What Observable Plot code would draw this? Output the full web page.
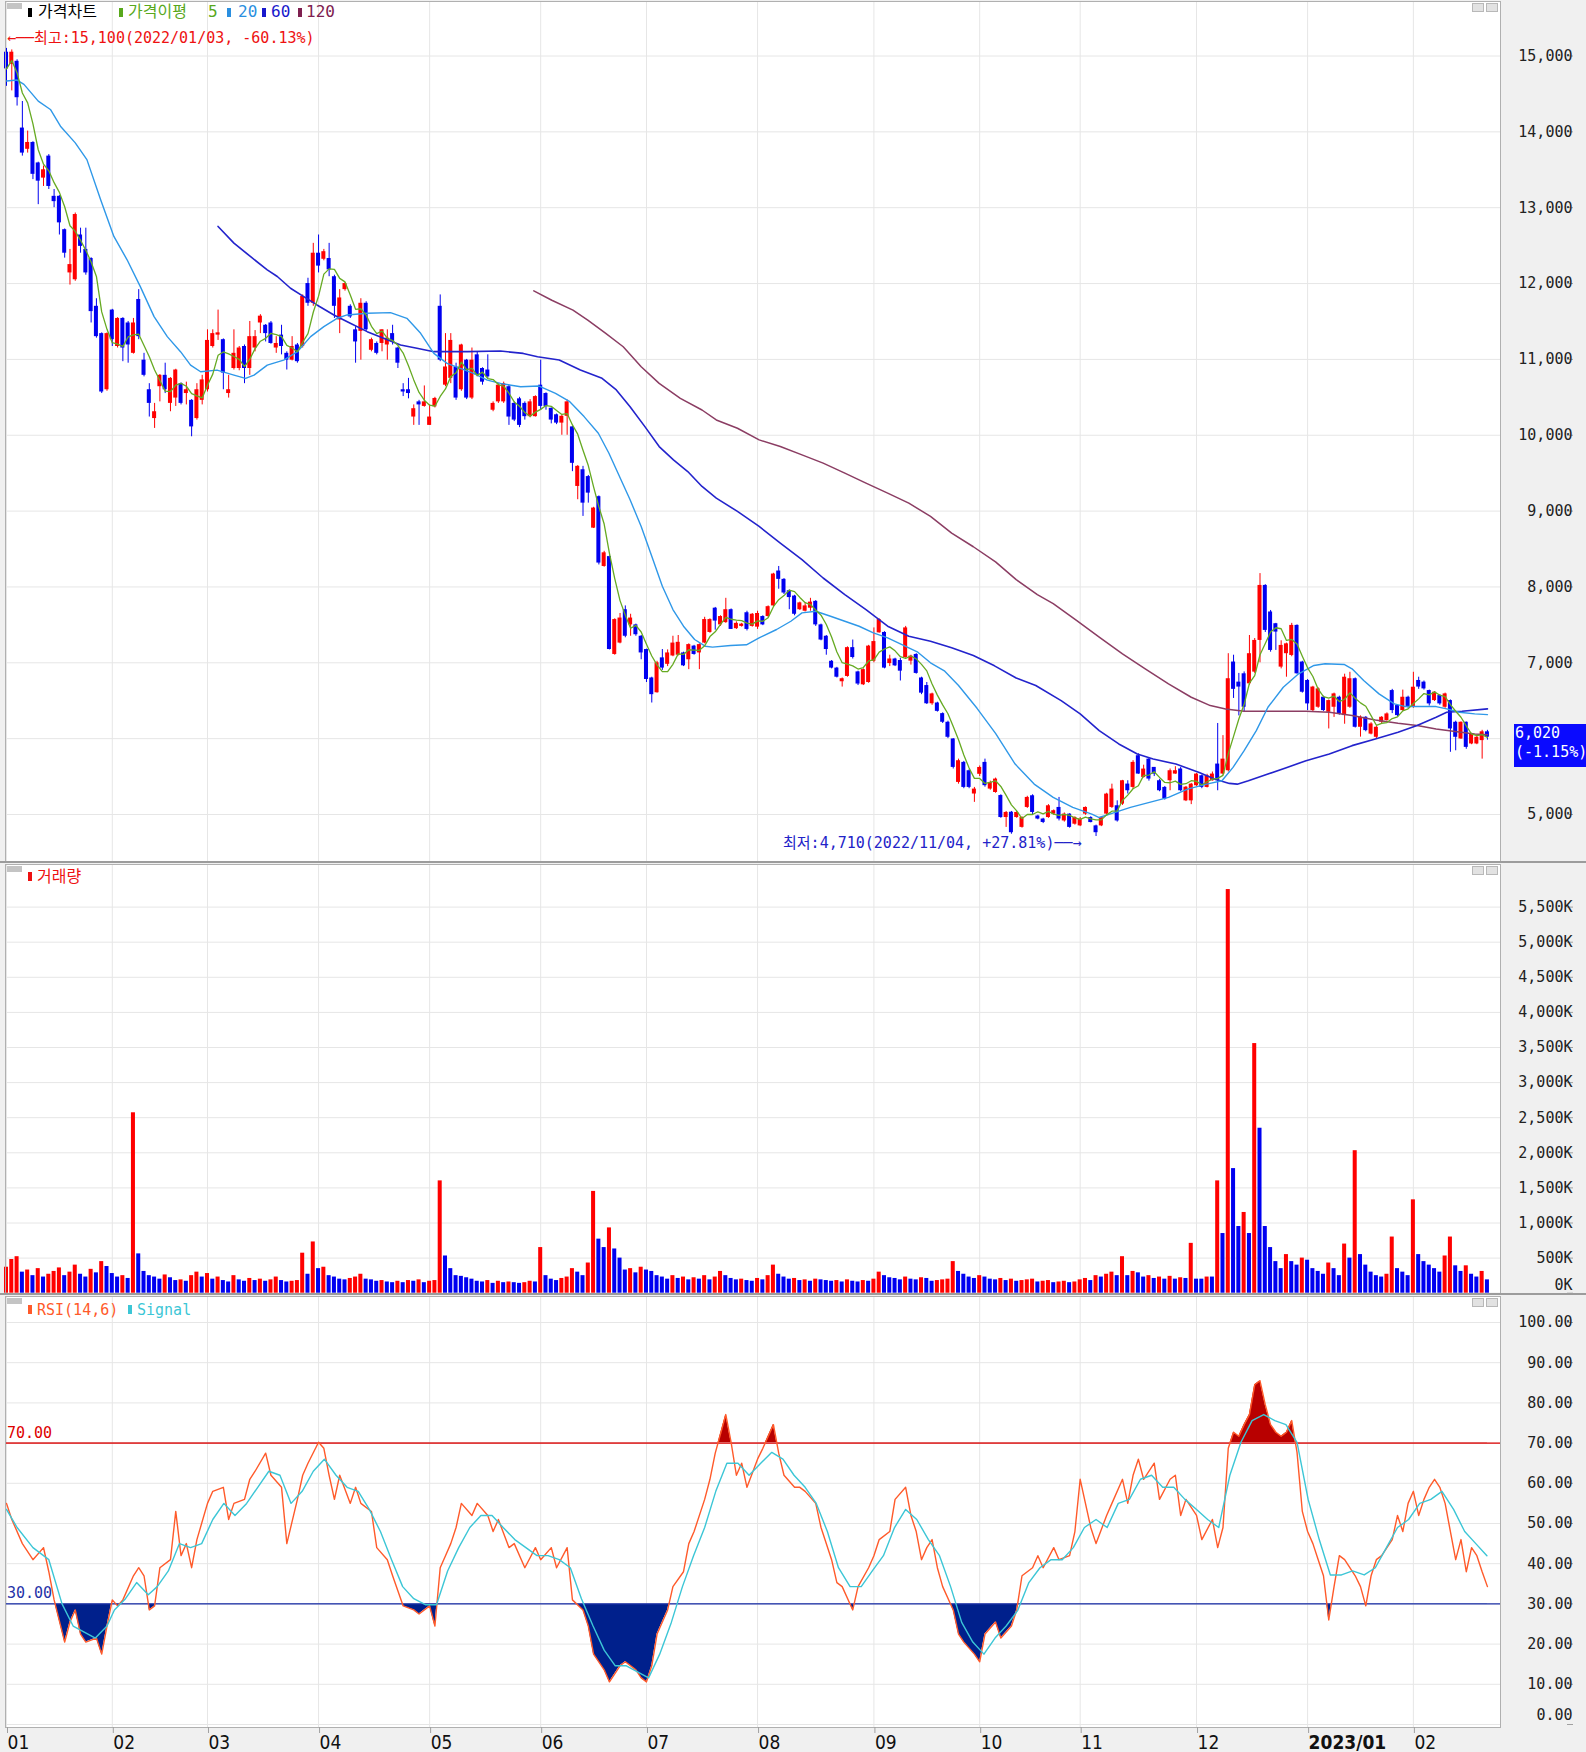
<!DOCTYPE html>
<html><head><meta charset="utf-8">
<script src="https://cdn.jsdelivr.net/npm/d3@7"></script>
<script src="https://cdn.jsdelivr.net/npm/@observablehq/plot@0.6"></script>
<style>
html,body{margin:0;padding:0;background:#f0f0f0;}
#chart{position:relative;width:1586px;height:1752px;overflow:hidden;background:#f0f0f0;font-family:'DejaVu Sans Mono','Noto Sans CJK KR',monospace;}
#chart svg{position:absolute;left:0;display:block;}
.t{position:absolute;white-space:pre;font-size:15px;line-height:18px;}
.t16{font-size:16px;}
.mk{position:absolute;width:4px;height:9px;}
.sep{position:absolute;left:0;width:1586px;height:2px;background:#9c9c9c;}
.ic{position:absolute;width:10px;height:7px;border:1px solid #b8b8b8;background:#e2e2e2;}
.menu{position:absolute;width:15px;height:6px;background:#c4c4c4;}
.pbox{position:absolute;left:1514px;top:724px;width:72px;height:43px;background:#0a0aff;color:#fff;font-size:15px;line-height:19px;padding-left:1px;box-sizing:border-box;white-space:pre;}
</style></head>
<body><div id="chart"></div>
<script>
// ---- trading-day axis: first session of each month and its label ----
const monthStart = [0, 20, 38, 59, 80, 101, 121, 142, 164, 184, 203, 225, 246, 266];
const monthLabel = ["01","02","03","04","05","06","07","08","09","10","11","12","2023/01","02"];

// ---- daily prices (KRW) ----
const open = [
15050,14890,14930,14050,13770,13860,13590,13390,13680,13150,
13150,12710,12140,12050,12640,12450,12330,11700,11340,10600,
11650,11170,11540,11480,11080,11790,10990,10600,10220,10640,
10790,10420,10490,10680,10550,10460,10220,10460,10600,11170,
11320,11260,10550,10880,10880,11170,10880,11150,11480,11450,
11480,11150,11320,11080,10990,11190,11170,12000,11740,12400,
12320,12330,12090,11520,11920,11700,11390,11370,11740,11120,
11210,11210,11190,11340,11150,10600,10600,10240,10440,10380,
10130,10375,11700,10660,10750,10900,10600,10990,10490,11060,
10880,10860,10330,10440,10440,10640,10420,10480,10420,10245,
10245,10660,10550,10355,10270,10160,10250,10110,9325,9545,
9455,8775,9190,8270,8400,7110,7260,7700,7500,7500,
7350,7175,6800,6605,7065,6980,7090,7100,7130,7040,
7220,7130,7260,7400,7720,7500,7530,7700,7450,7480,
7660,7480,7470,7610,7610,7750,8210,8100,7950,7880,
7700,7680,7720,7810,7500,7350,7020,6930,6750,6820,
7200,6880,6710,6740,7020,7395,7400,6990,7050,7030,
7070,7022,7110,6800,6700,6460,6470,6330,6216,5996,
5423,5687,5577,5270,5530,5687,5335,5290,5250,4960,
5030,4960,4830,5093,5247,4980,4940,4960,5005,5093,
4915,5005,4872,4850,5005,4960,4850,4850,5005,5093,
5115,5137,5401,5357,5775,5489,5730,5621,5445,5357,
5445,5533,5600,5180,5180,5379,5511,5357,5445,5665,
5533,5577,7010,6745,6855,6723,6877,7295,8020,7670,
7515,6943,7120,7097,7493,7010,6767,6370,6414,6546,
6348,6414,6546,6304,6414,6790,6150,6282,6060,6018,
6216,6238,6634,6436,6370,6546,6414,6767,6745,6634,
6502,6568,6414,6502,6216,5996,6216,5930,5930,5974,
6090];
const high = [
15100,15080,14950,14400,14010,13870,13600,13550,13700,13240,
13160,12720,12450,12930,12730,12730,12340,11800,11350,11350,
11660,11550,11550,11500,11540,11920,11080,10680,10420,10800,
10950,10760,10870,10690,10700,10470,10680,10790,11390,11390,
11650,11270,10790,11390,11170,11190,11500,11380,11590,11460,
11500,11300,11450,11100,11300,11210,11850,12070,12530,12640,
12450,12530,12110,11920,12010,11720,11430,11800,11760,11280,
11230,11390,11390,11450,11160,10680,10750,10400,10460,10650,
10400,10500,11850,11340,11340,10950,11200,11000,11150,11100,
10890,11060,10440,10680,10700,10660,10440,10500,10440,10470,
10520,10990,10560,10360,10280,10260,10465,10120,9600,9590,
9470,9050,9200,8470,8410,7580,7650,7750,7640,7510,
7360,7180,6810,7020,7175,7170,7350,7360,7140,7250,
7230,7250,7600,7580,7730,7620,7850,7710,7540,7520,
7680,7650,7680,7620,7750,8180,8270,8110,7960,7890,
7800,7780,7850,7820,7510,7360,7030,6940,6800,7210,
7300,6890,6920,7230,7460,7580,7410,7100,7060,7060,
7480,7100,7120,6810,6740,6600,6480,6340,6230,6000,
5730,5700,5590,5357,5640,5730,5440,5480,5260,5040,
5040,5040,4970,5240,5260,4990,4950,5130,5060,5225,
5020,5010,4970,4960,5100,4970,4860,4970,5280,5400,
5180,5450,5445,5710,5800,5650,5750,5620,5460,5370,
5600,5630,5620,5370,5410,5540,5520,5530,5560,6200,
6040,7120,7100,6860,6880,7360,7320,8176,8030,7690,
7520,7290,7260,7520,7500,7020,6780,6690,6670,6560,
6510,6600,6560,6850,6875,6800,6300,6290,6210,6160,
6290,6340,6650,6450,6640,6560,6875,6810,6760,6640,
6620,6580,6600,6510,6230,6220,6220,6070,6030,6110,
6110];
const low = [
14600,14540,14340,13680,13720,13370,13040,13280,13240,13000,
12640,12335,11980,12030,12400,12110,11480,11280,10550,10580,
11170,11150,10970,10950,11070,11260,10770,10240,10090,10440,
10550,10310,10380,10400,10400,9980,10200,10400,10570,11150,
11250,10600,10490,10860,10850,10680,10790,11100,11340,11230,
11200,11080,11060,10860,10980,10950,11150,11700,11700,12140,
12300,12090,11540,11340,11900,11540,10950,10990,11370,11100,
11060,11100,10990,11190,10880,10510,10480,10130,10130,10370,
10130,10360,10970,10640,10680,10460,10580,10470,10470,10770,
10660,10750,10310,10420,10420,10130,10180,10100,10200,10230,
10240,10330,10330,10150,10140,10000,10000,9520,9150,8930,
9105,8770,8290,8260,7170,7100,7250,7330,7350,7350,
7040,6740,6470,6600,6900,6950,7080,7090,6950,6910,
7100,6910,7250,7390,7430,7480,7520,7440,7440,7470,
7420,7470,7440,7490,7600,7740,7970,7900,7700,7620,
7690,7670,7680,7480,7290,7100,6920,6800,6680,6810,
7050,6700,6700,6730,7000,7390,6920,6950,6950,6760,
7060,6970,6850,6580,6450,6440,6350,6200,6000,5600,
5400,5340,5340,5160,5500,5360,5320,5280,4950,4830,
4740,4950,4820,5080,4990,4930,4880,4950,4990,4915,
4900,4820,4860,4840,4990,4890,4710,4840,4990,5080,
4900,5120,5270,5330,5530,5480,5440,5500,5300,5190,
5313,5530,5300,5170,5130,5370,5340,5350,5440,5313,
5520,5560,6530,6300,6350,6700,6860,7000,7400,7140,
7163,6920,6810,7080,6850,6600,6370,6350,6400,6360,
6128,6280,6310,6190,6400,6140,6020,6090,6050,6000,
6200,6230,6330,6290,6360,6400,6400,6650,6640,6430,
6490,6440,6400,5820,5840,5990,5860,5920,5920,5730,
5980];
const close = [
14830,15050,14450,13720,13860,13440,13350,13500,13280,13080,
12800,12400,12250,12910,12490,12140,11630,11300,10570,11340,
11260,11540,11150,11190,11480,11300,10790,10420,10310,10790,
10600,10750,10860,10420,10600,10110,10600,10730,11250,11340,
11350,10820,10600,11080,11150,10880,11300,11300,11570,11340,
11210,11210,11170,10990,11170,10970,11830,11740,12400,12230,
12420,12180,11700,11810,12000,11560,11230,11740,11390,11260,
11080,11390,11280,11230,10950,10570,10550,10350,10400,10440,
10240,10485,10990,10900,11250,10490,11190,10490,10990,10790,
10700,10770,10420,10660,10680,10240,10200,10130,10245,10440,
10510,10380,10380,10200,10160,10250,10440,9630,9590,9105,
9237,9040,8315,8450,7175,7570,7590,7350,7590,7370,
7130,6780,6580,7000,6930,7130,7260,7270,6960,7240,
7110,7240,7570,7570,7550,7610,7700,7440,7520,7510,
7440,7640,7650,7500,7740,8170,8100,7920,7860,7640,
7790,7750,7800,7500,7300,7175,6930,6810,6790,7200,
7070,6720,6910,7220,7280,7570,6930,7050,6960,6890,
7460,7088,6860,6600,6460,6590,6360,6216,6018,5621,
5709,5357,5357,5335,5620,5380,5423,5467,4960,5027,
4760,5027,4960,5225,5027,4940,4895,5115,5050,4940,
5005,4830,4960,4938,5093,4894,4760,4960,5269,5335,
4915,5445,5313,5687,5533,5599,5467,5533,5313,5203,
5577,5577,5313,5360,5400,5533,5357,5511,5533,5445,
5730,6790,6650,6680,6414,7120,7295,8020,7427,7163,
7405,7229,7250,7493,6855,6612,6458,6680,6656,6370,
6502,6590,6326,6810,6790,6150,6282,6106,6194,6150,
6282,6326,6370,6304,6546,6414,6678,6680,6656,6458,
6612,6458,6590,6128,6018,6216,5885,6060,6018,6090,
6020];

// ---- daily volume, thousands of shares ----
const volume = [
370,480,520,300,330,250,350,230,270,310,360,250,300,400,270,230,340,290,450,380,
280,230,250,210,2570,560,310,250,230,200,260,220,180,190,170,250,300,230,
280,200,230,180,160,250,190,170,210,180,200,170,190,230,180,160,170,180,570,270,730,
350,370,250,230,200,190,210,230,270,200,190,170,180,160,150,170,150,180,170,190,150,
170,180,1600,530,350,250,240,220,200,170,160,180,140,170,150,160,150,140,150,170,160,
650,250,200,180,210,230,350,300,250,430,1450,770,650,930,630,500,330,350,290,370,
330,310,250,230,200,250,210,230,190,220,200,250,190,230,310,250,210,190,200,180,170,
210,190,250,400,270,230,200,210,180,190,170,200,190,180,170,180,160,190,170,160,180,170,
200,300,250,220,210,190,230,200,190,220,210,170,180,190,200,450,310,270,230,210,
250,230,200,190,210,180,200,170,180,190,200,160,170,180,150,160,170,150,160,
190,210,180,250,230,270,300,250,520,250,310,290,230,250,210,230,200,240,200,220,210,710,
200,200,230,230,1600,850,5750,1775,950,1150,850,3556,2350,950,650,450,350,550,450,400,500,
470,350,310,270,430,350,250,700,500,2030,550,400,300,250,230,270,800,350,300,250,
1330,550,450,400,350,300,530,800,390,310,390,270,230,310,190];

// ---- moving averages: [session, value] ----
const ma20 = [[0,14670],[2,14683],[3.3,14626],[6,14405],[8.3,14295],[10.2,14075],[13,13855],[15.2,13634],[17.8,13106],[20.3,12621],[22.8,12313],[25.3,11960],[27.9,11564],[30.4,11300],[32.9,11102],[34.8,10925],[36.7,10837],[39.8,10859],[43,10793],[45.2,10749],[46.8,10793],[49.3,10925],[52.4,10991],[55,11102],[57.5,11300],[60,11432],[62.5,11542],[64.4,11586],[68.2,11608],[72.6,11617],[75.7,11542],[78.3,11344],[80.8,11080],[83.3,10947],[85.8,10881],[88.3,10815],[90.9,10727],[93.4,10683],[97.2,10639],[100.7,10649],[103.8,10553],[106.5,10443],[109.2,10246],[111.9,10026],[113.9,9763],[115.9,9456],[117.9,9149],[120,8798],[122,8404],[124,8009],[126,7702],[128,7482],[130.1,7307],[132.1,7219],[133.5,7206],[136.9,7228],[139.9,7237],[142.3,7329],[145.6,7439],[148.3,7548],[150.4,7658],[153,7680],[155.8,7614],[158.5,7548],[161.2,7482],[163.9,7395],[166.6,7329],[169.3,7240],[172.3,7140],[174.7,7000],[177.4,6890],[180,6700],[183.5,6400],[187,6070],[190.7,5665],[194.3,5401],[197.9,5225],[201.6,5093],[205.2,5005],[206.6,4960],[209.6,5027],[212.5,5093],[216.1,5159],[219.7,5225],[223.3,5335],[226.9,5401],[229.8,5445],[231.9,5621],[234,5842],[236.3,6106],[238.5,6414],[241.4,6678],[244.3,6855],[247.2,6965],[249.3,6987],[252.9,6978],[254.4,6921],[256.6,6767],[259.5,6590],[262.4,6458],[264.5,6423],[266.7,6423],[270.3,6423],[272.3,6392],[274.7,6348],[277.6,6326],[280,6317]];
const ma60 = [[40,12753],[43,12533],[46.1,12357],[49.3,12181],[51.2,12093],[53.7,11938],[56.2,11828],[58.7,11718],[61.9,11586],[65,11476],[68.2,11366],[71.3,11278],[74.5,11190],[77.6,11146],[80.8,11102],[87.1,11102],[93.4,11110],[97.7,11079],[100.4,11035],[104.5,10991],[108.5,10860],[112.6,10750],[115.3,10597],[117.9,10377],[120.7,10114],[123.4,9851],[126.1,9675],[128.8,9522],[131.5,9325],[134.2,9171],[138.2,8996],[142.3,8798],[146.3,8579],[150.4,8360],[154.4,8118],[158.5,7899],[162.5,7702],[166.6,7482],[170.6,7351],[174.7,7285],[178.7,7197],[182.8,7095],[186.8,6960],[190.9,6800],[194.6,6700],[199.4,6502],[203,6326],[206.6,6106],[210.3,5930],[213.8,5797],[216.8,5731],[221.1,5665],[225.5,5555],[228.4,5467],[231.2,5410],[232.7,5400],[234.8,5445],[238.5,5533],[242.1,5621],[245.7,5709],[250.1,5797],[254.4,5908],[258.8,5996],[263.1,6084],[266.7,6172],[270.3,6282],[272.3,6348],[275.2,6361],[280,6392]];
const ma120 = [[99.7,11903],[103.1,11780],[107.1,11649],[109.9,11518],[113.3,11342],[116.6,11167],[120,10903],[123.4,10684],[127.4,10487],[131.5,10333],[134.2,10202],[138.2,10092],[142.3,9939],[146.3,9851],[150.4,9741],[154.4,9632],[158.5,9500],[162.5,9368],[166.6,9237],[170.6,9105],[174.7,8930],[178.7,8710],[182.8,8530],[187,8330],[190.9,8096],[194.9,7899],[197.9,7780],[202.3,7560],[206.6,7339],[211,7119],[215.3,6921],[219.7,6723],[224,6546],[227.6,6436],[230.5,6392],[234,6361],[241.4,6361],[245.7,6361],[250.1,6348],[254.4,6304],[258.8,6247],[263.1,6203],[266.7,6172],[270.3,6128],[273.9,6093],[277.6,6062],[280,6053]];

// ---- RSI(14) and its 6-session signal: [session, value] ----
const rsi14 = [[0,55],[1,51],[3,45],[5,41],[7,44],[8,38],[9,31],[11,20.5],[12,25.5],[13,28.5],[14,22.5],[15,20.5],[17,21.5],[18,17.5],[19,24.5],[20,31],[21,29.5],[22,31],[24,37],[25,39],[26,37],[27,28.5],[28,29.5],[29,39],[31,41],[32,53],[33,42],[34,45],[35,39],[36,46],[38,55],[39,58],[41,59],[42,51],[43,55],[45,56],[46,61],[47,63],[49,67.5],[50,62],[52,59],[53,45],[55,56],[56,62],[57,65],[59,70.2],[60,68.7],[61,62],[62,56],[63,62],[65,55],[66,59],[67,55],[69,53],[70,44],[72,41],[73,37],[75,29.5],[77,28.5],[78,27.5],[80,29.5],[81,24.5],[82,39],[83,42],[84,45],[85,49],[86,55],[88,52],[89,55],[91,52],[92,48],[93,51],[95,44],[96,45],[98,39],[100,44],[101,41],[103,44],[104,39],[106,44],[107,31],[109,28.5],[110,24.5],[111,17.5],[113,13.6],[114,10.6],[116,14.6],[117,15.6],[119,13.6],[120,11.6],[121,10.6],[122,14.6],[123,22.5],[125,28.5],[126,34.3],[128,38],[129,45],[130,48],[132,56],[133,61],[134,67.5],[136,77.1],[137,70.2],[138,62],[139,65],[140,59],[142,66],[143,68.7],[145,74.6],[146,67.5],[147,62],[149,59],[150,59],[151,58],[153,55],[154,49],[156,41],[157,35.3],[158,34.3],[160,28.5],[161,34.3],[163,39],[164,42],[165,46],[167,48],[168,56],[170,59],[171,52],[172,48],[173,41],[174,44],[175,46],[176,39],[177,34.3],[179,28.5],[180,22.5],[181,20.5],[183,17.5],[184,15.6],[185,22.5],[187,25.5],[188,21.5],[190,24.5],[191,28.5],[192,37],[194,39],[195,42],[196,39],[198,44],[199,41],[201,42],[202,48],[203,61],[205,49],[206,45],[208,52],[209,55],[211,61],[212,55],[213,62],[214,66],[215,61],[217,65],[218,56],[220,61],[221,62],[222,52],[223,56],[225,52],[226,46],[228,51],[229,44],[230,49],[231,68.7],[232,72.7],[233,71.7],[234,74.6],[235,77.1],[236,84.5],[237,85.5],[238,79.5],[239,74.6],[240,72.7],[241,71.7],[242,72.7],[243,75.6],[244,67.7],[245,53],[246,48],[247,45],[248,41],[249,37],[250,26],[251,34.3],[252,42],[253,41],[255,37],[256,34.3],[257,29.5],[258,37],[259,41],[260,42],[262,46],[263,52],[264,48],[265,55],[266,58],[267,52],[268,56],[269,59],[270,61],[271,59],[272,55],[273,48],[274,41],[275,46],[276,38],[277,44],[278,42],[279,38],[280,34.3]];
const signal6 = [[0,53.5],[2,49],[5,44],[8,41],[10.5,30],[12.6,24.5],[14.7,23],[16.8,21.5],[19,24.5],[20.4,28.5],[22.5,31.3],[24.6,35.3],[26.8,32.3],[28.5,34.3],[30.6,38.2],[32.7,45],[34.8,44],[36.9,45],[39,51],[41.1,55],[43.2,52],[45.4,55],[47.5,59],[49.6,63],[51.7,62],[53.8,55],[55.9,58],[58,63],[60.1,66],[62.3,62],[64.4,59],[66.5,58],[68.6,53.5],[70.7,48],[72.8,41],[74.9,34.3],[77,31.3],[79.2,29.8],[81.3,29.8],[83.4,38.2],[85.5,44],[87.6,49],[89.7,52],[91.8,52],[93.9,49],[96.1,46],[98.2,44],[100.3,42],[102.4,42],[104.5,41],[106.6,39],[108.7,31.3],[110.9,24.5],[113,18.5],[115.1,14.6],[117.2,14.6],[119.3,13.1],[121.4,11.6],[123.5,17.5],[125.7,25.4],[127.8,34.3],[129.9,42],[132,49],[134.1,58],[136.2,65],[138.3,65],[140.4,62],[142.6,65],[144.7,67.7],[146.8,66],[148.9,62],[151,59],[153.1,55],[155.2,48],[157.3,39],[159.5,34.3],[161.6,34.3],[163.7,38.2],[165.8,42],[167.9,49],[170,53.5],[172.1,51],[174.3,46],[176.4,42],[178.5,34.3],[180.6,25.4],[182.7,20.5],[184.8,17.5],[186.9,21.5],[189,24.5],[191.2,28.4],[193.3,35.3],[195.4,39],[197.5,41],[199.6,41],[201.7,44],[203.8,49],[206,51],[208.1,49],[210.2,55],[212.3,56],[214.4,61],[216.5,62],[218.6,59],[220.7,59],[222.8,56],[225,53.5],[227.1,51],[229.2,49],[231.3,62],[233.4,70.2],[235.5,75.6],[237.7,77.1],[239.8,75.6],[241.9,74.6],[244,70.2],[246.1,56],[248.2,46],[250.3,37.2],[252.4,37.2],[254.5,38.2],[256.7,37.2],[258.8,39],[260.9,44],[263,49],[265.1,51],[267.2,55],[269.3,56],[271.4,58],[273.6,53.5],[275.7,48],[277.8,45],[279.9,42]];

// ---- axis ticks ----
const priceTicks = [5000,6000,7000,8000,9000,10000,11000,12000,13000,14000,15000];
const volTicks = [0,500,1000,1500,2000,2500,3000,3500,4000,4500,5000,5500];
const rsiTicks = [0,10,20,30,40,50,60,70,80,90,100];
const lastClose = 6020;   // shown in the price tag on the right axis

// ---- shared layout ----
const W = 1586, ML = 5, MR = 86;
const MONO = "'DejaVu Sans Mono', monospace";
const NARROW = "'Liberation Sans Narrow', 'DejaVu Sans Condensed', sans-serif";
const UP = "#ff0000", DOWN = "#0000f0";
const X = {type: "linear", domain: [-0.19, 282.47], axis: null};
const grid = {stroke: "#e6e6e6", strokeOpacity: 1};
const baseStyle = {background: "transparent", fontFamily: MONO, fontSize: "15px", color: "#222", overflow: "visible"};
const rightAxis = (ticks, fmt) => Plot.axisY(ticks, {anchor: "right", label: null, tickSize: 6, tickPadding: 0, textAnchor: "end", dx: 66, tickFormat: fmt, stroke: "#a0a0a0", fill: "#222", fontFamily: MONO, fontSize: 15});
const pt = {x: d => d[0], y: d => d[1]};

const bars = close.map((c, i) => ({i, o: open[i], h: high[i], l: low[i], c, v: volume[i]}));
const candleColor = d => d.c >= d.o ? UP : DOWN;
const volumeColor = d => (d.i === 0 || d.v > volume[d.i - 1]) ? UP : DOWN;
const bodyX1 = d => d.i - 0.38, bodyX2 = d => d.i + 0.38;

const chart = document.getElementById("chart");
function place(svg, top) { svg.style.top = top + "px"; chart.appendChild(svg); }

// price panel: candles with 5/20/60/120-session averages
const priceFmt = d3.format(",");
const pricePlot = Plot.plot({
  width: W, height: 863, marginLeft: ML, marginRight: MR, marginTop: 1, marginBottom: 1,
  x: X, y: {domain: [5000, 15000], range: [814, 55.5], axis: null},
  color: {type: "identity"}, style: baseStyle,
  marks: [
    Plot.frame({fill: "#fff", stroke: "none"}),
    Plot.gridY(priceTicks, grid),
    Plot.gridX(monthStart, grid),
    Plot.ruleX(bars, {x: "i", y1: "l", y2: "h", stroke: candleColor, strokeWidth: 1}),
    Plot.rect(bars, {x1: bodyX1, x2: bodyX2, y1: "o", y2: "c", fill: candleColor}),
    Plot.line(ma120, {...pt, stroke: "#8b3d63", strokeWidth: 1.5}),
    Plot.line(ma60, {...pt, stroke: "#2323cc", strokeWidth: 1.6}),
    Plot.line(ma20, {...pt, stroke: "#2f98e8", strokeWidth: 1.4}),
    Plot.lineY(bars, Plot.windowY({k: 5, anchor: "end", reduce: "mean"}, {x: "i", y: "c", stroke: "#66aa22", strokeWidth: 1.3})),
    Plot.frame({stroke: "#b0b0b0"}),
    // the 6,000 label sits under the last-price tag, so only its tick is drawn
    rightAxis(priceTicks, d => Math.abs(d - lastClose) < 500 ? "" : priceFmt(d))
  ]
});
place(pricePlot, 0);

// volume panel
const volPlot = Plot.plot({
  width: W, height: 431, marginLeft: ML, marginRight: MR, marginTop: 1, marginBottom: 1,
  x: X, y: {domain: [0, 5500], range: [429.7, 43.6], axis: null},
  color: {type: "identity"}, style: baseStyle,
  marks: [
    Plot.frame({fill: "#fff", stroke: "none"}),
    Plot.gridY(volTicks, grid),
    Plot.gridX(monthStart, grid),
    Plot.rect(bars, {x1: bodyX1, x2: bodyX2, y1: 0, y2: "v", fill: volumeColor}),
    Plot.frame({stroke: "#b0b0b0"}),
    rightAxis(volTicks, v => (v ? d3.format(",")(v) : "0") + "K")
  ]
});
place(volPlot, 863);

// RSI panel
const rsiPlot = Plot.plot({
  width: W, height: 457, marginLeft: ML, marginRight: MR, marginTop: 1, marginBottom: 25,
  x: X, y: {domain: [0, 100], range: [429, 27], axis: null},
  style: baseStyle,
  marks: [
    Plot.frame({fill: "#fff", stroke: "none"}),
    Plot.gridY(rsiTicks, grid),
    Plot.gridX(monthStart, grid),
    Plot.areaY(rsi14, {x: d => d[0], y1: 30, y2: d => d[1], fill: "#00208c"}),
    Plot.areaY(rsi14, {x: d => d[0], y1: 70, y2: d => d[1], fill: "#b80000"}),
    Plot.ruleY([70], {stroke: "#dd0000", strokeWidth: 1.2}),
    Plot.ruleY([30], {stroke: "#1f33a8", strokeWidth: 1.2}),
    Plot.line(rsi14, {...pt, stroke: "#ff5a2a", strokeWidth: 1.4}),
    Plot.line(signal6, {...pt, stroke: "#3cc6d6", strokeWidth: 1.4}),
    Plot.frame({stroke: "#b0b0b0"}),
    rightAxis(rsiTicks, d3.format(".2f")),
    Plot.axisX(monthStart, {anchor: "bottom", label: null, tickSize: 6, tickPadding: 2, textAnchor: "start", dx: 1,
      tickFormat: d => monthLabel[monthStart.indexOf(d)], stroke: "#a0a0a0", fill: "#111",
      fontFamily: NARROW, fontSize: 19})
  ]
});
place(rsiPlot, 1295);

// keep the RSI fills on the far side of the 30 / 70 bands
(function clipBands() {
  const ns = "http://www.w3.org/2000/svg";
  const y = rsiPlot.scale("y");
  const y30 = y.apply(30), y70 = y.apply(70);
  const defs = document.createElementNS(ns, "defs");
  const mk = (id, y0, h) => {
    const cp = document.createElementNS(ns, "clipPath"); cp.setAttribute("id", id);
    const r = document.createElementNS(ns, "rect");
    r.setAttribute("x", 0); r.setAttribute("y", y0); r.setAttribute("width", W); r.setAttribute("height", h);
    cp.appendChild(r); defs.appendChild(cp);
  };
  mk("below30", y30, 457 - y30);
  mk("above70", 0, y70);
  rsiPlot.insertBefore(defs, rsiPlot.firstChild);
  rsiPlot.querySelectorAll("g").forEach(g => {
    const f = g.getAttribute("fill");
    if (f === "#00208c") g.setAttribute("clip-path", "url(#below30)");
    if (f === "#b80000") g.setAttribute("clip-path", "url(#above70)");
  });
})();

// edge labels are nudged inside the panel; the year label is bold
function nudge(t, dy) { t.setAttribute("transform", (t.getAttribute("transform") || "") + ` translate(0,${dy})`); }
volPlot.querySelectorAll("text").forEach(t => { if (t.textContent === "0K") nudge(t, -8.5); });
rsiPlot.querySelectorAll("text").forEach(t => {
  if (t.textContent === "0.00") nudge(t, -9);
  if (t.textContent === "2023/01") t.setAttribute("font-weight", "bold");
});

// ---- overlays: legends, annotations, panel chrome ----
function add(html) { chart.insertAdjacentHTML("beforeend", html); }
const txt = (x, y, s, color, cls = "") => add(`<div class="t ${cls}" style="left:${x}px;top:${y}px;color:${color}">${s}</div>`);
const mark = (x, y, color) => add(`<div class="mk" style="left:${x}px;top:${y}px;background:${color}"></div>`);
const icons = y => add(`<div class="ic" style="left:1472px;top:${y}px"></div><div class="ic" style="left:1486px;top:${y}px"></div>`);

add(`<div class="sep" style="top:861px"></div><div class="sep" style="top:1293px"></div>`);

// price legend
add(`<div class="menu" style="left:7px;top:3px"></div>`);
mark(28, 8, "#000"); txt(38, 3, "가격차트", "#000", "t16");
mark(119, 8, "#58a81c"); txt(128, 3, "가격이평", "#58a81c", "t16"); txt(208, 3, "5", "#58a81c", "t16");
mark(227, 8, "#2a8fe0"); txt(238, 3, "20", "#2a8fe0", "t16");
mark(262, 8, "#1818cc"); txt(271, 3, "60", "#1818cc", "t16");
mark(298, 8, "#7e2050"); txt(306, 3, "120", "#7e2050", "t16");
txt(7, 29, "←──최고:15,100(2022/01/03, -60.13%)", "#ee1111");
txt(783, 834, "최저:4,710(2022/11/04, +27.81%)──→", "#2323c8");
add(`<div class="pbox">${priceFmt(lastClose)}\n(-1.15%)</div>`);
icons(3);

// volume legend
add(`<div class="menu" style="left:7px;top:866px"></div>`);
mark(28, 872, "#ee1111"); txt(37, 868, "거래량", "#ee1111", "t16");
icons(866);

// RSI legend
add(`<div class="menu" style="left:7px;top:1298px"></div>`);
mark(28, 1305, "#ff5a2a"); txt(37, 1301, "RSI(14,6)", "#ff5a2a");
mark(128, 1305, "#3cc6d6"); txt(137, 1301, "Signal", "#3cc6d6");
txt(7, 1424, "70.00", "#dd0000");
txt(7, 1584, "30.00", "#1f33a8");
icons(1298);
</script>
</body></html>
